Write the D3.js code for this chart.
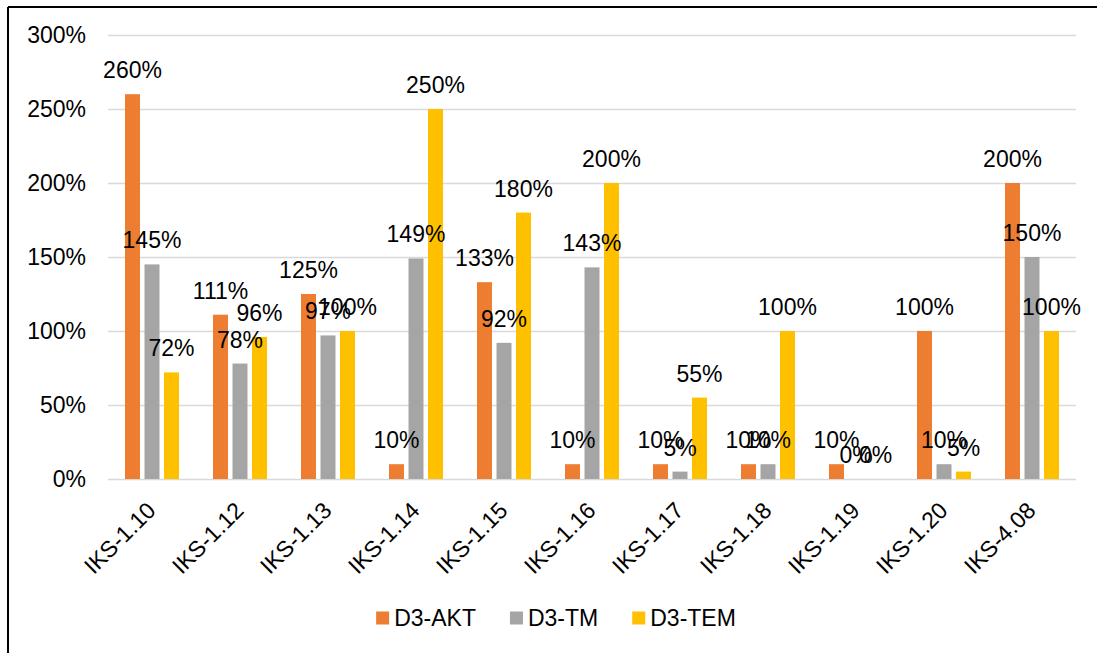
<!DOCTYPE html>
<html>
<head>
<meta charset="utf-8">
<script src="https://cdn.jsdelivr.net/npm/d3@7"></script>
<style>
  html, body { margin: 0; padding: 0; background: #fff; }
  svg { display: block; font-family: "Liberation Sans", Arial, sans-serif; }
</style>
</head>
<body>
<svg id="chart" width="1097" height="653"></svg>
<script>
const categories = ["IKS-1.10","IKS-1.12","IKS-1.13","IKS-1.14","IKS-1.15","IKS-1.16","IKS-1.17","IKS-1.18","IKS-1.19","IKS-1.20","IKS-4.08"];
const seriesNames = ["D3-AKT","D3-TM","D3-TEM"];
const aktValues = [2.60, 1.11, 1.25, 0.10, 1.33, 0.10, 0.10, 0.10, 0.10, 1.00, 2.00];
const tmValues  = [1.45, 0.78, 0.97, 1.49, 0.92, 1.43, 0.05, 0.10, 0.00, 0.10, 1.50];
const temValues = [0.72, 0.96, 1.00, 2.50, 1.80, 2.00, 0.55, 1.00, 0.00, 0.05, 1.00];
const yTicks = [0, 0.5, 1.0, 1.5, 2.0, 2.5, 3.0];
const colors = ["#ED7D31", "#A5A5A5", "#FFC000"];

const seriesValues = [aktValues, tmValues, temValues];
const svg = d3.select("#chart");
const W = 1097, H = 653;
const plot = { left: 108, right: 1076, top: 35, bottom: 479 };
const fontSize = 23;

// border (top & left)
svg.append("line").attr("x1", 8).attr("x2", W).attr("y1", 7).attr("y2", 7)
  .attr("stroke", "#000").attr("stroke-width", 2);
svg.append("line").attr("x1", 8).attr("x2", 8).attr("y1", 7).attr("y2", H)
  .attr("stroke", "#000").attr("stroke-width", 2);

const x0 = d3.scaleBand().domain(categories).range([plot.left, plot.right]).padding(0);
const bw = x0.bandwidth();
const x1 = d3.scaleBand().domain(seriesNames)
  .range([bw * 0.1676, bw * 0.8324]).paddingInner(0.2308).paddingOuter(0.1154);
const y = d3.scaleLinear().domain([0, 3]).range([plot.bottom, plot.top]);

// gridlines
const yAxis = d3.axisLeft(y).tickValues(yTicks).tickFormat(d3.format(".0%"))
  .tickSize(-(plot.right - plot.left)).tickPadding(22);
const gy = svg.append("g").attr("transform", `translate(${plot.left},0)`).call(yAxis);
gy.select(".domain").remove();
gy.selectAll(".tick line").attr("stroke", "#D9D9D9").attr("stroke-width", 1.5);
gy.selectAll(".tick text").attr("font-size", fontSize).attr("fill", "#000")
  .attr("font-family", "Liberation Sans, Arial, sans-serif");

// bars
const groups = svg.append("g").selectAll("g")
  .data(categories).join("g")
  .attr("transform", d => `translate(${x0(d)},0)`);

seriesNames.forEach((s, si) => {
  groups.append("rect")
    .attr("x", x1(s))
    .attr("width", x1.bandwidth())
    .attr("y", (d, i) => y(seriesValues[si][i]))
    .attr("height", (d, i) => y(0) - y(seriesValues[si][i]))
    .attr("fill", colors[si]);
});

// data labels
seriesNames.forEach((s, si) => {
  groups.append("text")
    .attr("x", x1(s) + x1.bandwidth() / 2)
    .attr("y", (d, i) => y(seriesValues[si][i]) - 16)
    .attr("text-anchor", "middle")
    .attr("font-size", fontSize)
    .attr("fill", "#000")
    .text((d, i) => d3.format(".0%")(seriesValues[si][i]));
});

// x axis labels
const xAxis = d3.axisBottom(x0).tickSize(0).tickPadding(0);
const gx = svg.append("g").attr("transform", `translate(0,${plot.bottom})`).call(xAxis);
gx.select(".domain").remove();
gx.selectAll(".tick text")
  .attr("font-size", fontSize).attr("fill", "#000")
  .attr("font-family", "Liberation Sans, Arial, sans-serif")
  .attr("text-anchor", "end")
  .attr("dy", 0)
  .attr("y", 0)
  .attr("transform", "translate(5,33) rotate(-45)");

// legend
const legend = svg.append("g");
const items = legend.selectAll("g").data(seriesNames).join("g");
items.append("rect").attr("width", 13).attr("height", 13).attr("y", -6.5)
  .attr("fill", (d, i) => colors[i]);
items.append("text").attr("x", 18).attr("dy", "0.35em")
  .attr("font-size", fontSize).attr("fill", "#000").text(d => d);
let cx = 0;
items.each(function() {
  const g = d3.select(this);
  const w = 18 + g.select("text").node().getComputedTextLength();
  g.attr("transform", `translate(${cx},0)`);
  cx += w + 34;
});
const totalW = cx - 34;
legend.attr("transform", `translate(${556 - totalW / 2},618)`);
</script>
</body>
</html>
